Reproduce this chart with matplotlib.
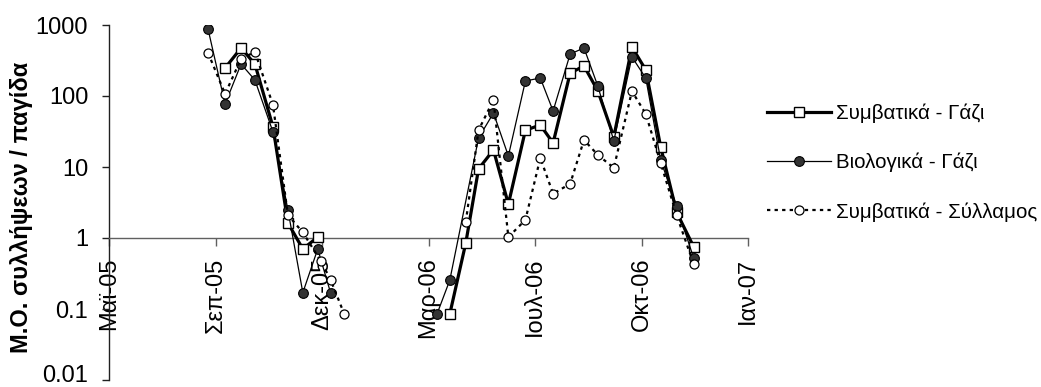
import numpy as np
import matplotlib
matplotlib.use("Agg")
import matplotlib.pyplot as plt
import matplotlib.dates as mdates
import matplotlib.transforms as mtransforms
from matplotlib.ticker import FixedLocator, FixedFormatter, NullLocator

plt.rcParams['font.family'] = ['Liberation Sans', 'DejaVu Sans']

# ---- data ----
conv_gazi_dates = ["2005-09-14", "2005-09-29", "2005-10-12", "2005-10-29", "2005-11-12",
                   "2005-11-26", "2005-12-10", "2006-01-20",
                   "2006-04-13", "2006-04-28", "2006-05-10", "2006-05-24", "2006-06-07",
                   "2006-06-23", "2006-07-07", "2006-07-19", "2006-08-04", "2006-08-17",
                   "2006-08-30", "2006-09-14", "2006-10-01", "2006-10-14", "2006-10-28",
                   "2006-11-12", "2006-11-28"]
conv_gazi_vals = [248, 474, 282, 36.6, 1.63, 0.70, 1.03, np.nan,
                  0.085, 0.85, 9.4, 17.4, 3.0, 33, 39, 21.8, 210, 265, 118, 26.5,
                  490, 233, 19.2, 2.3, 0.75]

bio_gazi_dates = ["2005-08-29", "2005-09-14", "2005-09-29", "2005-10-12", "2005-10-29",
                  "2005-11-12", "2005-11-26", "2005-12-10", "2005-12-22", "2006-02-01",
                  "2006-04-01", "2006-04-13", "2006-05-10", "2006-05-24", "2006-06-07",
                  "2006-06-23", "2006-07-07", "2006-07-19", "2006-08-04", "2006-08-17",
                  "2006-08-30", "2006-09-14", "2006-10-01", "2006-10-14", "2006-10-28",
                  "2006-11-12", "2006-11-28"]
bio_gazi_vals = [877, 77, 282, 168, 31, 2.48, 0.17, 0.70, 0.17, np.nan,
                 0.085, 0.255, 25.6, 57.6, 14.3, 163, 179, 61.5, 390, 475,
                 138, 23.3, 355, 179, 12.5, 2.8, 0.52]

conv_syll_dates = ["2005-08-29", "2005-09-14", "2005-09-29", "2005-10-12", "2005-10-29",
                   "2005-11-12", "2005-11-26", "2005-12-13", "2005-12-22", "2006-01-04",
                   "2006-02-15",
                   "2006-04-28", "2006-05-10", "2006-05-24", "2006-06-07", "2006-06-23",
                   "2006-07-07", "2006-07-19", "2006-08-04", "2006-08-17", "2006-08-30",
                   "2006-09-14", "2006-10-01", "2006-10-14", "2006-10-28", "2006-11-12",
                   "2006-11-28"]
conv_syll_vals = [405, 107, 333, 418, 74.6, 2.1, 1.2, 0.47, 0.26, 0.084, np.nan,
                  1.68, 33, 88, 1.03, 1.8, 13.4, 4.2, 5.8, 24, 14.8, 9.7,
                  117, 56, 11.4, 2.1, 0.43]

series_names = ["Συμβατικά - Γάζι", "Βιολογικά - Γάζι", "Συμβατικά - Σύλλαμος"]

x_tick_dates = ["2005-05-28", "2005-09-05", "2005-12-14", "2006-03-24",
                "2006-07-02", "2006-10-10", "2007-01-18"]
x_tick_labels = ["Μαϊ-05", "Σεπ-05", "Δεκ-05", "Μαρ-06", "Ιουλ-06", "Οκτ-06", "Ιαν-07"]
y_ticks = [0.01, 0.1, 1, 10, 100, 1000]
y_tick_labels = ["0.01", "0.1", "1", "10", "100", "1000"]
y_label = "Μ.Ο. συλλήψεων / παγίδα"


def to_num(ds):
    return mdates.date2num(np.array(ds, dtype="datetime64[D]"))


W, H = 1041, 387
fig = plt.figure(figsize=(W / 100, H / 100), dpi=100)
ax = fig.add_axes([109 / W, 1 - 380 / H, (748 - 109) / W, (380 - 25) / H])

l1, = ax.plot(to_num(conv_gazi_dates), conv_gazi_vals, color='black', lw=2.3,
              marker='s', ms=7, mfc='white', mec='black', mew=1.0,
              label=series_names[0], zorder=3)
l2, = ax.plot(to_num(bio_gazi_dates), bio_gazi_vals, color='black', lw=0.9,
              marker='o', ms=7, mfc='#333333', mec='black', mew=0.8,
              label=series_names[1], zorder=4)
l3, = ax.plot(to_num(conv_syll_dates), conv_syll_vals, color='black', lw=1.6,
              linestyle=(0, (1.5, 1.9)),
              marker='o', ms=6.5, mfc='white', mec='black', mew=0.9,
              label=series_names[2], zorder=5)

ax.set_yscale('log')
ax.set_ylim(0.01, 1000)
xt = to_num(x_tick_dates)
ax.set_xlim(xt[0], xt[-1])

ax.xaxis.set_major_locator(FixedLocator(xt))
ax.xaxis.set_major_formatter(FixedFormatter(x_tick_labels))
ax.xaxis.set_minor_locator(NullLocator())
ax.yaxis.set_major_locator(FixedLocator(y_ticks))
ax.yaxis.set_major_formatter(FixedFormatter(y_tick_labels))
ax.yaxis.set_minor_locator(NullLocator())

for s in ['top', 'right']:
    ax.spines[s].set_visible(False)
ax.spines['bottom'].set_position(('data', 1))
ax.spines['bottom'].set_color('#606060')
ax.spines['bottom'].set_linewidth(1.0)
ax.spines['left'].set_color('#202020')
ax.spines['left'].set_linewidth(1.0)

ax.tick_params(axis='x', direction='out', length=6, width=1, color='#606060',
               pad=8, labelsize=17, labelrotation=90)
ax.tick_params(axis='y', direction='out', length=5, width=1, color='#202020',
               pad=10, labelsize=17)
ax.patch.set_visible(False)

# keep the lowest y label inside the canvas (nudge up a few pixels)
ticks = ax.yaxis.get_major_ticks()
lab = ticks[0].label1
lab.set_transform(lab.get_transform() +
                  mtransforms.ScaledTranslation(0, 6 / 100, fig.dpi_scale_trans))

fig.text(22 / W, 1 - 207.5 / H, y_label, rotation=90, ha='center', va='center',
         fontsize=17, fontweight='bold')

leg = fig.legend(handles=[l1, l2, l3], loc='center left',
                 bbox_to_anchor=(767 / W, 1 - 162.5 / H), bbox_transform=fig.transFigure,
                 frameon=False, fontsize=14.8, handlelength=3.1, handletextpad=0.25,
                 labelspacing=1.45, borderpad=0, borderaxespad=0, numpoints=1)

fig.savefig("out.png", dpi=100)
